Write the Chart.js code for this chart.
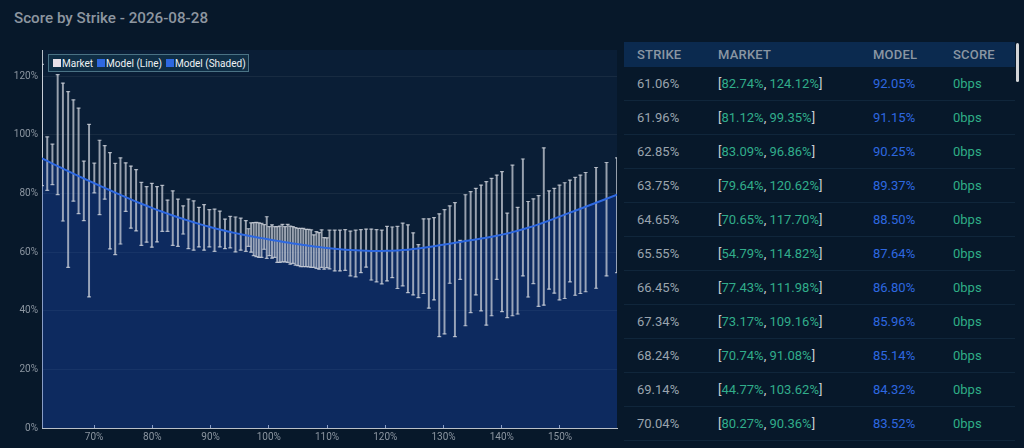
<!DOCTYPE html>
<html>
<head>
<meta charset="utf-8">
<script src="https://cdn.jsdelivr.net/npm/chart.js@4.4.1/dist/chart.umd.min.js"></script>
<style>
  html, body { margin: 0; padding: 0; }
  body { width: 1024px; height: 448px; overflow: hidden; background: #07182a; font-family: Roboto, "Noto Sans", sans-serif; position: relative; }
  #title { position: absolute; left: 14px; top: 6px; line-height: 24px; font-size: 15.2px; font-weight: 500; color: #8d96a0; }
  #chartWrap { position: absolute; left: 0; top: 40px; width: 620px; height: 408px; }
  #legend { position: absolute; left: 48px; top: 14px; height: 18px; box-sizing: border-box; display: flex; align-items: center;
            padding: 0 2px 0 4px; background: #0f2e45; border: 1px solid #4b7385; font-size: 10px; color: #eef2f5; white-space: nowrap; }
  #legend .item { display: flex; align-items: center; margin-right: 4px; }
  #legend .item:last-child { margin-right: 0; }
  #legend i { display: inline-block; width: 8px; height: 8px; margin-right: 1px; }
  #tableWrap { position: absolute; left: 624px; top: 42px; width: 391px; height: 406px; overflow: hidden; }
  table { border-collapse: collapse; table-layout: fixed; width: 391px; font-size: 13px; }
  th { height: 25px; background: #0b2a4f; color: #8a96a3; font-weight: 500; text-align: left; padding: 0 0 0 13px; letter-spacing: 0.2px; }
  td { height: 33px; padding: 0 0 0 13px; border-bottom: 1px solid #10263b; color: #9aa4ae; white-space: nowrap; }
  td .br { color: #c9cdd3; }
  td .mk { color: #31ad8a; }
  td.model { color: #2e68e0; }
  td.score { color: #2fae86; }
  #scroll { position: absolute; left: 1016px; top: 43px; width: 3px; height: 39px; background: #d3d5d8; border-radius: 2px; }
</style>
</head>
<body>
<div id="title">Score by Strike - 2026-08-28</div>
<div id="chartWrap"><canvas id="chart"></canvas><div id="legend"></div></div>
<div id="tableWrap">
  <table>
    <colgroup><col style="width:81px"><col style="width:155px"><col style="width:80px"><col style="width:75px"></colgroup>
    <thead><tr><th>STRIKE</th><th>MARKET</th><th>MODEL</th><th>SCORE</th></tr></thead>
    <tbody id="rows"></tbody>
  </table>
</div>
<div id="scroll"></div>
<script>
// ── DATA (strike %, market bid/ask range %, model %) ─────────────────────────
const strikes = [
  61.06, 61.96, 62.85, 63.75, 64.65, 65.55, 66.45, 67.34, 68.24, 69.14,
  70.04, 70.94, 71.83, 72.73, 73.63, 74.53, 75.43, 76.32, 77.22, 78.12,
  79.02, 79.92, 80.81, 81.71, 82.61, 83.51, 84.40, 85.30, 86.20, 87.10,
  88.00, 88.89, 89.79, 90.69, 91.59, 92.48, 93.38, 94.28, 95.18,
  96.06, 96.51, 96.96, 97.41, 97.86, 98.30, 98.75, 99.20, 99.65, 100.10,
  100.55, 101.00, 101.45, 101.89, 102.34, 102.79, 103.24, 103.69, 104.14, 104.59,
  105.04, 105.48, 105.93, 106.38, 106.83, 107.28, 107.73, 108.18, 108.63, 109.07,
  109.52, 109.97, 110.42,
  111.32, 112.22, 113.12, 114.01, 114.91, 115.81, 116.71, 117.60, 118.50, 119.40,
  120.30, 121.20, 122.09, 122.99, 123.89, 124.79, 125.69, 126.58, 127.48, 128.37,
  129.27, 130.17, 131.07, 131.96, 132.86, 133.76, 134.66, 135.55, 136.45, 137.35,
  138.25, 139.14, 140.04, 140.94, 141.84, 142.73, 143.63, 144.53, 145.43, 146.32,
  147.22, 148.12, 149.02, 149.91, 150.81, 151.71, 152.61, 153.50, 154.40,
  156.20, 157.99, 159.79
];
const marketLo = [
  82.74, 81.12, 83.09, 79.64, 70.65, 54.79, 77.43, 73.17, 70.74, 44.77,
  80.27, 72.8, 78.1, 61.1, 59.2, 62.8, 73.9, 68.2, 67.3, 62.3,
  63.4, 61.7, 63.5, 67.1, 67.1, 62.3, 62.0, 66.2, 61.2, 60.7,
  61.8, 60.7, 61.8, 60.3, 61.8, 61.2, 61.5, 60.1, 60.7,
  60.3, 62.0, 60.0, 58.8, 58.5, 58.2, 58.2, 61.0, 57.9, 58.8,
  58.0, 58.2, 56.5, 56.5, 56.7, 56.7, 56.5, 55.9, 56.2, 55.6,
  55.4, 55.1, 55.1, 55.1, 55.0, 54.8, 54.8, 54.5, 54.2, 54.8,
  54.2, 54.7, 54.3,
  53.6, 53.6, 53.8, 51.9, 51.6, 53.0, 54.9, 50.5, 49.9, 49.2,
  50.2, 51.3, 47.6, 48.5, 46.2, 45.4, 44.5, 45.9, 40.9, 43.7,
  31.2, 32.1, 49.4, 31.2, 50.7, 34.9, 39.4, 45.4, 40.0, 35.1,
  38.3, 50.7, 39.7, 37.7, 38.3, 38.9, 51.9, 44.7, 49.3, 41.5,
  41.9, 47.4, 46.0, 43.7, 44.2, 49.9, 45.3, 45.9, 46.5,
  47.7, 51.9, 53.0
];
const marketHi = [
  124.12, 99.35, 96.86, 120.62, 117.70, 114.82, 111.98, 109.16, 91.08, 103.62,
  90.36, 98.2, 96.4, 94.0, 90.3, 92.2, 90.5, 89.4, 88.2, 83.8,
  82.4, 83.5, 82.4, 82.8, 77.8, 80.9, 78.1, 75.8, 78.1, 77.5,
  75.3, 76.2, 74.5, 74.7, 74.0, 71.3, 72.2, 72.0, 71.6,
  70.8, 68.0, 70.0, 70.1, 70.2, 70.0, 69.8, 69.4, 72.1, 68.7,
  69.3, 68.7, 68.7, 68.9, 69.5, 68.7, 69.5, 68.9, 68.7, 68.4,
  68.1, 68.1, 68.1, 67.8, 67.8, 67.6, 65.9, 67.0, 66.7, 67.6,
  65.0, 64.9, 67.5,
  67.5, 67.5, 67.7, 67.2, 67.5, 67.7, 67.9, 67.9, 67.7, 67.5,
  68.8, 68.6, 68.8, 69.9, 69.3, 66.6, 62.6, 71.4, 71.4, 71.8,
  73.1, 74.5, 75.8, 76.9, 64.0, 79.6, 80.7, 81.8, 82.9, 84.1,
  85.2, 86.3, 87.5, 73.3, 89.7, 75.3, 91.8, 77.3, 78.2, 79.3,
  95.6, 80.9, 81.8, 82.9, 83.7, 84.6, 85.5, 86.3, 87.2,
  88.9, 90.6, 92.2
];
const model = [
  92.05, 91.15, 90.25, 89.37, 88.50, 87.64, 86.80, 85.96, 85.14, 84.32,
  83.52, 82.72, 81.92, 81.13, 80.34, 79.56, 78.78, 78.00, 77.26, 76.54,
  75.83, 75.14, 74.46, 73.80, 73.16, 72.54, 71.93, 71.34, 70.77, 70.21,
  69.67, 69.15, 68.66, 68.19, 67.74, 67.31, 66.90, 66.51, 66.15,
  65.81, 65.64, 65.47, 65.30, 65.13, 64.96, 64.80, 64.64, 64.48, 64.32,
  64.16, 64.01, 63.86, 63.71, 63.56, 63.42, 63.28, 63.14, 63.00, 62.86,
  62.73, 62.60, 62.47, 62.34, 62.22, 62.10, 61.98, 61.86, 61.75, 61.64,
  61.53, 61.42, 61.32,
  61.14, 60.98, 60.84, 60.72, 60.62, 60.54, 60.48, 60.44, 60.42, 60.42,
  60.45, 60.51, 60.60, 60.72, 60.87, 61.05, 61.26, 61.50, 61.76, 62.04,
  62.33, 62.62, 62.91, 63.20, 63.49, 63.78, 64.07, 64.36, 64.65, 64.94,
  65.26, 65.61, 65.99, 66.40, 66.84, 67.31, 67.81, 68.34, 68.90, 69.49,
  70.11, 70.76, 71.44, 72.12, 72.80, 73.48, 74.16, 74.84, 75.52,
  76.88, 78.24, 79.60
];
const yTicksMax = 129;   // top of the value axis
const tableRows = 11;    // rows visible in the side panel

// ── COLOURS ───────────────────────────────────────────────────────────────────
const AREA_BG   = '#0a1e36';
const WHISKER   = 'rgba(208,212,220,0.72)';
const LINE_BLUE = '#2e68e0';
const SHADE     = 'rgba(22,72,192,0.30)';
const AXIS      = '#b9c0c8';
const TICK_TXT  = '#8b95a0';

// ── PLUGINS ───────────────────────────────────────────────────────────────────
// plot background behind everything
const areaBg = {
  id: 'areaBg',
  beforeDraw(chart) {
    const { ctx, chartArea: { left, top, width, height } } = chart;
    ctx.save();
    ctx.fillStyle = AREA_BG;
    ctx.fillRect(left, top, width, height);
    ctx.restore();
  }
};

// caps on both ends of each market range bar
const whiskerCaps = {
  id: 'whiskerCaps',
  afterDatasetDraw(chart, args) {
    if (args.meta.type !== 'bar') return;
    const { ctx, chartArea: a } = chart;
    ctx.save();
    ctx.beginPath(); ctx.rect(a.left, a.top, a.width, a.height); ctx.clip();
    ctx.strokeStyle = WHISKER;
    ctx.lineWidth = 1.2;
    args.meta.data.forEach(bar => {
      const { x, y, base } = bar.getProps(['x', 'y', 'base'], true);
      ctx.beginPath();
      ctx.moveTo(x - 2, y); ctx.lineTo(x + 2, y);
      ctx.moveTo(x - 2, base); ctx.lineTo(x + 2, base);
      ctx.stroke();
    });
    ctx.restore();
  }
};

// ── CHART ─────────────────────────────────────────────────────────────────────
const marketPts = strikes.map((s, i) => ({ x: s, y: [marketLo[i], marketHi[i]] }));
const modelPts  = strikes.map((s, i) => ({ x: s, y: model[i] }));
const pct = v => v + '%';

const chart = new Chart(document.getElementById('chart'), {
  type: 'line',
  data: {
    datasets: [
      { type: 'bar', label: 'Market', data: marketPts, backgroundColor: WHISKER, borderWidth: 0,
        barThickness: 1.3, order: 2, legendColor: '#e8e0e8' },
      { type: 'line', label: 'Model (Line)', data: modelPts, borderColor: LINE_BLUE, borderWidth: 2,
        pointRadius: 0, tension: 0, fill: false, order: 1, legendColor: LINE_BLUE },
      { type: 'line', label: 'Model (Shaded)', data: modelPts, borderWidth: 0, borderColor: 'transparent',
        backgroundColor: SHADE, pointRadius: 0, tension: 0, fill: 'origin', order: 3, legendColor: LINE_BLUE }
    ]
  },
  options: {
    responsive: true,
    maintainAspectRatio: false,
    animation: false,
    layout: { padding: { top: 8, right: 3, left: 0, bottom: 0 } },
    plugins: { legend: { display: false }, tooltip: { enabled: false } },
    scales: {
      x: {
        type: 'linear',
        min: strikes[0],
        max: strikes[strikes.length - 1],
        offset: false,
        grid: { offset: false, drawOnChartArea: false, drawTicks: true, tickLength: -3, color: AXIS, tickColor: AXIS },
        border: { display: true, color: AXIS, width: 1 },
        ticks: { stepSize: 10, includeBounds: false, padding: 6, color: TICK_TXT, maxRotation: 0,
                 font: { family: 'Roboto', size: 10 }, callback: pct },
        afterFit(s) { s.height = 20; }
      },
      y: {
        min: 0,
        max: yTicksMax,
        grid: { color: 'rgba(255,255,255,0.06)', drawTicks: false },
        border: { display: true, color: AXIS, width: 1 },
        ticks: { stepSize: 20, includeBounds: false, padding: 4, color: TICK_TXT,
                 font: { family: 'Roboto', size: 10 }, callback: pct },
        afterFit(s) { s.width = 42; }
      }
    }
  },
  plugins: [areaBg, whiskerCaps]
});

// ── LEGEND (html, over the plot) ─────────────────────────────────────────────
document.getElementById('legend').innerHTML = chart.data.datasets
  .map(d => `<span class="item"><i style="background:${d.legendColor}"></i>${d.label}</span>`).join('');

// ── TABLE ─────────────────────────────────────────────────────────────────────
const f2 = v => v.toFixed(2) + '%';
const scoreBps = i => {
  const m = model[i], lo = marketLo[i], hi = marketHi[i];
  const off = m < lo ? lo - m : m > hi ? m - hi : 0;
  return Math.round(off * 100) + 'bps';
};
document.getElementById('rows').innerHTML = strikes.slice(0, tableRows).map((s, i) =>
  `<tr><td>${f2(s)}</td>` +
  `<td><span class="br">[</span><span class="mk">${f2(marketLo[i])}</span><span class="br">, </span><span class="mk">${f2(marketHi[i])}</span><span class="br">]</span></td>` +
  `<td class="model">${f2(model[i])}</td><td class="score">${scoreBps(i)}</td></tr>`
).join('');
</script>
</body>
</html>
